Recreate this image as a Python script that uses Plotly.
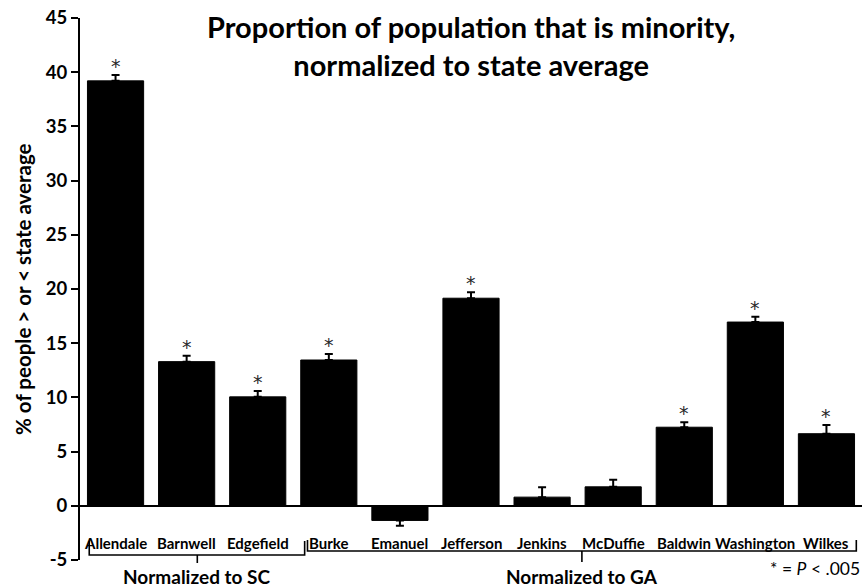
import plotly.graph_objects as go

# County values (% above/below the state average) and standard errors
counties = ["Allendale", "Barnwell", "Edgefield", "Burke", "Emanuel", "Jefferson",
            "Jenkins", "McDuffie", "Baldwin", "Washington", "Wilkes"]
values = [39.2, 13.3, 10.05, 13.45, -1.35, 19.15, 0.8, 1.75, 7.25, 16.95, 6.65]
errors = [0.55, 0.55, 0.55, 0.55, 0.5, 0.55, 0.9, 0.65, 0.45, 0.5, 0.8]
significant = [True, True, True, True, False, True, False, False, True, True, True]

y_ticks = list(range(-5, 50, 5))

FONT = "Lato"

err_plus = [e if v >= 0 else 0 for v, e in zip(values, errors)]
err_minus = [e if v < 0 else 0 for v, e in zip(values, errors)]

fig = go.Figure()
fig.add_trace(go.Bar(
    x=counties, y=values,
    marker=dict(color="black", line=dict(color="black", width=1)),
    error_y=dict(type="data", symmetric=False, array=err_plus, arrayminus=err_minus,
                 color="black", thickness=2, width=4),
    showlegend=False,
))

annotations = []

# significance stars above the error bars
for c, v, e, s in zip(counties, values, errors, significant):
    if s:
        annotations.append(dict(x=c, y=v + e, xref="x", yref="y", text="*",
                                showarrow=False, yshift=9,
                                font=dict(family="DejaVu Sans", size=19, color="#2a2a2a"),
                                xanchor="center", yanchor="middle"))

# county names just below the zero line
for c in counties:
    annotations.append(dict(x=c, y=-3.4, xref="x", yref="y", text=c, showarrow=False,
                            font=dict(family=FONT, size=15, color="black", weight="bold"),
                            xanchor="center", yanchor="middle"))

# title
annotations.append(dict(x=0.5, y=0.95, xref="paper", yref="paper",
                        text="Proportion of population that is minority,<br>normalized to state average",
                        showarrow=False, align="center",
                        font=dict(family=FONT, size=29, color="black", weight="bold"),
                        xanchor="center", yanchor="middle"))

# y axis title
annotations.append(dict(x=-0.073, y=0.5, xref="paper", yref="paper",
                        text="% of people > or < state average", textangle=-90,
                        showarrow=False,
                        font=dict(family=FONT, size=20.5, color="black", weight="bold"),
                        xanchor="center", yanchor="middle"))

# group labels
annotations.append(dict(x=1.15, y=-0.0305, xref="x", yref="paper", text="Normalized to SC",
                        showarrow=False,
                        font=dict(family=FONT, size=19, color="black", weight="bold"),
                        xanchor="center", yanchor="middle"))
annotations.append(dict(x=6.56, y=-0.0305, xref="x", yref="paper", text="Normalized to GA",
                        showarrow=False,
                        font=dict(family=FONT, size=19, color="black", weight="bold"),
                        xanchor="center", yanchor="middle"))

# significance key
annotations.append(dict(x=1.0, y=-0.0166, xref="paper", yref="paper",
                        text="* = <i>P</i> &lt; .005", showarrow=False,
                        font=dict(family=FONT, size=17.5, color="black"),
                        xanchor="right", yanchor="middle"))


def bracket(x0, x1, xm, y_line, y_tip, y_stem):
    return (f"M {x0},{y_tip} L {x0},{y_line} L {x1},{y_line} L {x1},{y_tip} "
            f"M {xm},{y_line} L {xm},{y_stem}")


shapes = [
    dict(type="path", xref="x", yref="paper",
         path=bracket(-0.37, 2.66, 1.15, 0.0092, 0.035, -0.0055),
         line=dict(color="black", width=1.6)),
    dict(type="path", xref="x", yref="paper",
         path=bracket(2.70, 10.42, 6.56, 0.0166, 0.037, -0.0037),
         line=dict(color="black", width=1.6)),
]

fig.update_layout(
    width=863, height=588,
    margin=dict(l=80, r=1, t=18, b=28),
    paper_bgcolor="white", plot_bgcolor="white",
    bargap=0.21,
    annotations=annotations,
    shapes=shapes,
    xaxis=dict(range=[-0.5, 10.5], showticklabels=False, showline=False,
               showgrid=False, zeroline=False, ticks=""),
    yaxis=dict(range=[-5, 45], tickvals=y_ticks, ticktext=[str(t) for t in y_ticks],
               showline=True, linecolor="black", linewidth=2,
               ticks="outside", ticklen=7, tickwidth=2, tickcolor="black",
               showgrid=False, zeroline=True, zerolinecolor="black", zerolinewidth=2,
               tickfont=dict(family=FONT, size=18.5, color="black", weight="bold")),
)

fig.write_html("out.html")
